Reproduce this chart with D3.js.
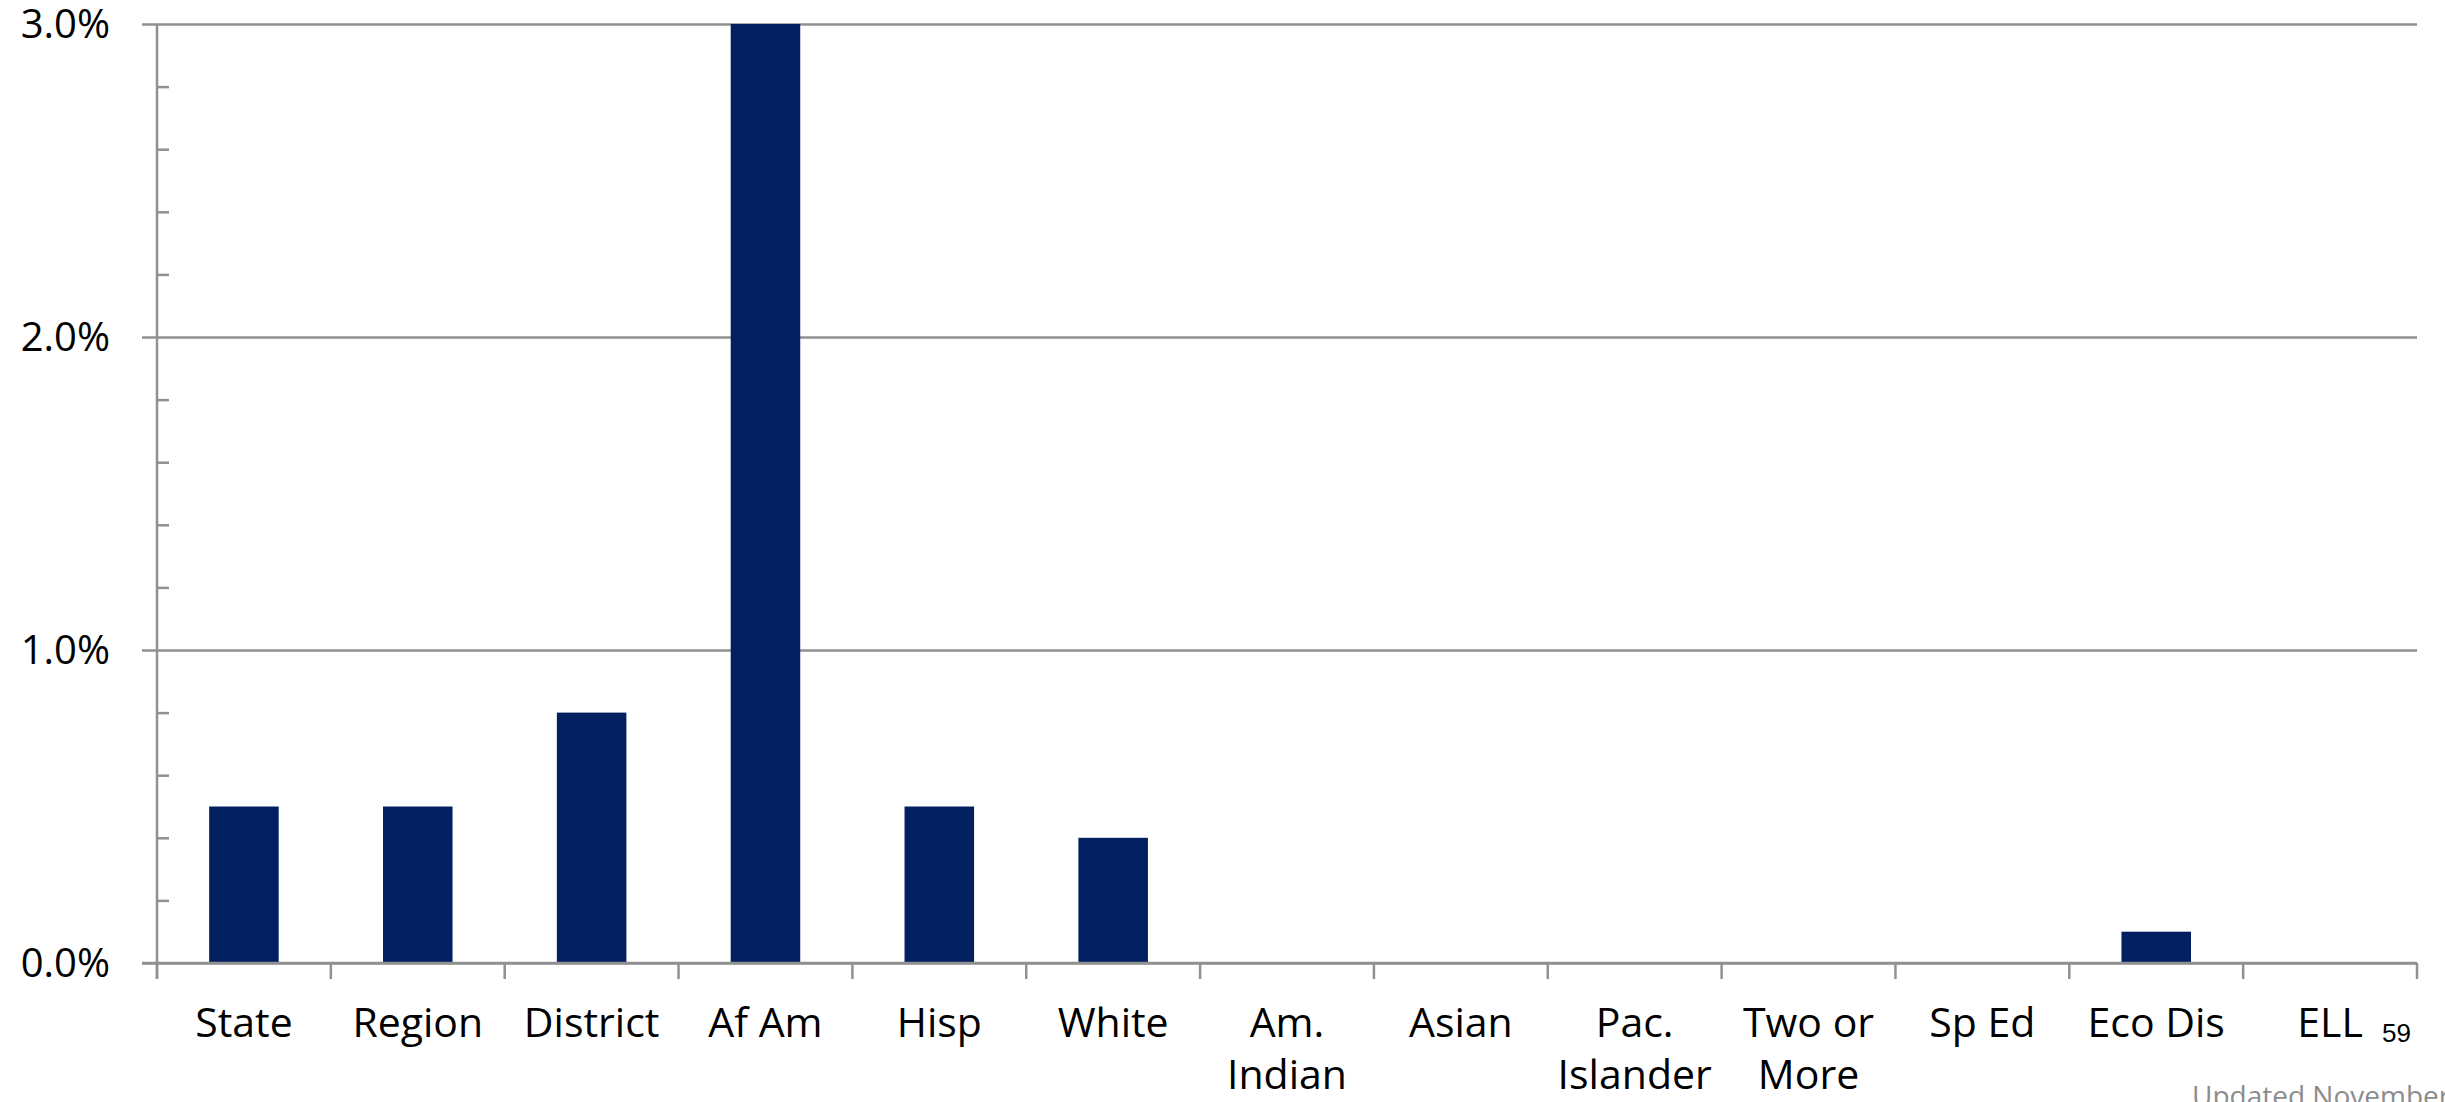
<!DOCTYPE html>
<html>
<head>
<meta charset="utf-8">
<script src="https://cdn.jsdelivr.net/npm/d3@7"></script>
<style>
  html, body { margin: 0; padding: 0; background: #ffffff; overflow: hidden; }
  svg { display: block; }
</style>
</head>
<body>
<svg id="chart" width="2445" height="1102"></svg>
<script>
// ---- data ----
const categories = ["State", "Region", "District", "Af Am", "Hisp", "White", "Am.\nIndian", "Asian", "Pac.\nIslander", "Two or\nMore", "Sp Ed", "Eco Dis", "ELL"];
const values = [0.5, 0.5, 0.8, 3.0, 0.5, 0.4, 0, 0, 0, 0, 0, 0.1, 0];
const majorTicks = [0, 1, 2, 3];
const minorTicks = [0.2, 0.4, 0.6, 0.8, 1.2, 1.4, 1.6, 1.8, 2.2, 2.4, 2.6, 2.8];
const pageNumber = "59";
const footerText = "Updated November";

(function () {
// ---- layout ----
const svg = d3.select("#chart");
const pLeft = 157, pRight = 2417, pTop = 24, pBottom = 963;
const gridColor = "#919191";
const font = "'Open Sans', 'Noto Sans', sans-serif";

const x = d3.scaleBand().domain(categories).range([pLeft, pRight]).padding(0);
const y = d3.scaleLinear().domain([0, 3]).range([pBottom, pTop]);

// gridlines + major ticks
const grid = svg.append("g").attr("transform", `translate(${pLeft},0)`)
  .call(d3.axisLeft(y).tickValues(majorTicks).tickSize(-(pRight - pLeft)).tickFormat(""));
grid.select(".domain").remove();
grid.selectAll(".tick line").attr("x1", -15).attr("stroke", gridColor).attr("stroke-width", 2.5);

// minor ticks (inward)
const minor = svg.append("g").attr("transform", `translate(${pLeft},0)`)
  .call(d3.axisRight(y).tickValues(minorTicks).tickSize(12).tickFormat(""));
minor.select(".domain").remove();
minor.selectAll(".tick line").attr("stroke", gridColor).attr("stroke-width", 2.5);

// y tick labels
svg.append("g").selectAll("text").data(majorTicks).join("text")
  .attr("x", 110).attr("y", d => y(d) + 14)
  .attr("text-anchor", "end")
  .attr("font-family", font).attr("font-size", 40).attr("fill", "#000")
  .text(d => d.toFixed(1) + "%");

// bars
svg.append("g").selectAll("rect").data(categories).join("rect")
  .attr("x", d => x(d) + x.bandwidth() * 0.3)
  .attr("width", x.bandwidth() * 0.4)
  .attr("y", (d, i) => y(values[i]))
  .attr("height", (d, i) => pBottom - y(values[i]))
  .attr("fill", "#022060");

// y axis line
svg.append("line").attr("x1", pLeft).attr("x2", pLeft).attr("y1", pTop).attr("y2", pBottom + 16)
  .attr("stroke", gridColor).attr("stroke-width", 2.5);

// x axis
const xAxis = svg.append("g").attr("transform", `translate(0,${pBottom})`);
xAxis.append("line").attr("x1", pLeft - 15).attr("x2", pRight).attr("y1", 0).attr("y2", 0)
  .attr("stroke", gridColor).attr("stroke-width", 2.5);
const boundaries = categories.map(c => x(c)).concat([pRight]);
xAxis.selectAll("line.xt").data(boundaries).join("line").attr("class", "xt")
  .attr("x1", d => d).attr("x2", d => d).attr("y1", 0).attr("y2", 16)
  .attr("stroke", gridColor).attr("stroke-width", 2.5);

// category labels
const labels = svg.append("g").selectAll("text").data(categories).join("text")
  .attr("x", d => x(d) + x.bandwidth() / 2)
  .attr("y", 1037)
  .attr("text-anchor", "middle")
  .attr("font-family", font).attr("font-size", 41).attr("fill", "#000");
labels.each(function (d) {
  const t = d3.select(this);
  d.split("\n").forEach((ln, i) => {
    t.append("tspan").attr("x", x(d) + x.bandwidth() / 2).attr("y", 1037 + i * 52).text(ln);
  });
});

// page number & footer
svg.append("text").attr("x", 2382).attr("y", 1042)
  .attr("font-family", "'Liberation Sans', Arial, sans-serif").attr("font-size", 26).attr("fill", "#000")
  .text(pageNumber);
svg.append("text").attr("x", 2192).attr("y", 1106)
  .attr("font-family", font).attr("font-size", 28).attr("fill", "#8c8c8c")
  .text(footerText);
})();
</script>
</body>
</html>
